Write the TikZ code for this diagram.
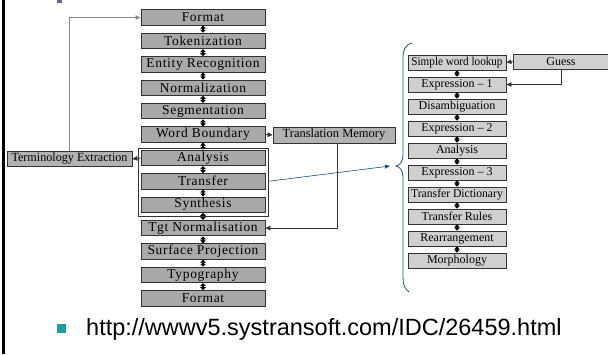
\documentclass[tikz,border=0pt]{standalone}
\usepackage{fontspec}
\setmainfont{Liberation Serif}
\newfontfamily\urlfont{Liberation Sans}
\newfontfamily\stagefont[LetterSpace=5]{Liberation Serif}
\usetikzlibrary{arrows.meta}
\definecolor{boxdark}{HTML}{A9A9A9}
\definecolor{boxlight}{HTML}{D0D0D0}
\definecolor{boxmid}{HTML}{B2B2B2}
\definecolor{edgegray}{HTML}{333333}
\definecolor{linkgray}{HTML}{8A8A8A}
\definecolor{bracecol}{HTML}{1F4E79}
\definecolor{bullet}{HTML}{1A9E9E}
\definecolor{slidemark}{HTML}{6B5FA8}
\tikzset{
  stage/.style={draw=edgegray, fill=boxdark, line width=0.8pt, minimum width=124pt,
    minimum height=15.5pt, inner sep=0pt, font=\stagefont\fontsize{13.5}{13.5}\selectfont},
  substage/.style={draw=edgegray, fill=boxlight, line width=0.8pt, minimum width=98pt,
    minimum height=15pt, inner sep=0pt, font=\fontsize{12}{12}\selectfont},
  sidebox/.style={draw=edgegray, fill=boxmid, line width=0.8pt,
    minimum height=15pt, inner sep=0pt, font=\fontsize{12.5}{12.5}\selectfont},
  link/.style={line width=1.6pt, {Triangle[length=3pt,width=5.5pt]}-{Triangle[length=3pt,width=5.5pt]}},
  feed/.style={line width=0.8pt, -{Triangle[length=5pt,width=4.5pt]}},
}
\begin{document}
\begin{tikzpicture}[x=1pt,y=-1pt]
\useasboundingbox (0,0) rectangle (608,354);
\fill[white] (0,0) rectangle (608,354);
% slide frame details
\fill[black] (2,0) rectangle (4.5,354);
\fill[slidemark] (57,0) rectangle (62,3);

% main pipeline
\foreach \n/\t [count=\i from 0] in {f1/Format, tok/Tokenization, ent/Entity Recognition,
    nrm/Normalization, seg/Segmentation, wb/Word Boundary, ana/Analysis, tra/Transfer,
    syn/Synthesis, tgt/Tgt Normalisation, sur/Surface Projection, typ/Typography, f2/Format}
  \node[stage] (\n) at (203,17.5+23.4*\i) {\t};
\foreach \a/\b in {f1/tok, tok/ent, ent/nrm, nrm/seg, seg/wb, wb/ana, ana/tra, tra/syn,
    syn/tgt, tgt/sur, sur/typ, typ/f2}
  \draw[link] (\a.south) -- (\b.north);

% transfer group frame
\node[draw=edgegray, line width=0.7pt, minimum width=130pt, minimum height=68pt, inner sep=0pt]
  (grp) at (203,182) {};

% side boxes
\node[sidebox, minimum width=125pt] (term) at (69.5,159) {\scalebox{0.97}[1]{Terminology Extraction}};
\node[sidebox, minimum width=122pt, minimum height=16pt] (tm) at (334,135) {Translation Memory};
\draw[feed, edgegray] (ana.west) -- (term.east);
\draw[feed, linkgray] (term.north) |- (f1.west);
\draw[feed, edgegray] (wb.east) -- (tm.west);
\coordinate (tmdrop) at (337,143);
\draw[feed, edgegray] (tmdrop) |- (tgt.east);

% detailed transfer stages
\foreach \n/\t [count=\i from 0] in {swl/{\scalebox{0.93}[1]{Simple word lookup}}, ex1/Expression -- 1,
    dis/Disambiguation, ex2/Expression -- 2, ana2/Analysis, ex3/Expression -- 3,
    tdic/{\scalebox{0.97}[1]{Transfer Dictionary}}, trul/Transfer Rules, rea/Rearrangement, mor/Morphology}
  \node[substage] (\n) at (457,62.5+22*\i) {\t};
\foreach \a/\b in {swl/ex1, ex1/dis, dis/ex2, ex2/ana2, ana2/ex3, ex3/tdic, tdic/trul, trul/rea, rea/mor}
  \draw[link] (\a.south) -- (\b.north);

\node[substage, minimum width=96pt] (guess) at (561,61.5) {Guess};
\draw[feed, edgegray] (guess.west) -- (swl.east);
\draw[feed, edgegray] (guess.south) |- (ex1.east);

% brace and pointer
\coordinate (brtip) at (396,166);
\draw[bracecol, line width=0.8pt] (412,43) .. controls (405,45) and (403,50) .. (403,58)
  -- (403,154) .. controls (403,162) and (400,165) .. (brtip)
  .. controls (400,167) and (403,170) .. (403,178) -- (403,278)
  .. controls (403,285) and (405,289) .. (409,292);
\coordinate (brpoint) at (390,166);
\draw[bracecol, line width=0.6pt, -{Triangle[length=5pt,width=4pt]}] (tra.east -| grp.east) -- (brpoint);

% reference line
\fill[bullet] (57,324) rectangle (66,333);
\node[anchor=base west, inner sep=0pt, font=\urlfont\fontsize{23.5}{23.5}\selectfont] (url)
  at (86,335) {http://wwwv5.systransoft.com/IDC/26459.html};
\end{tikzpicture}
\end{document}
